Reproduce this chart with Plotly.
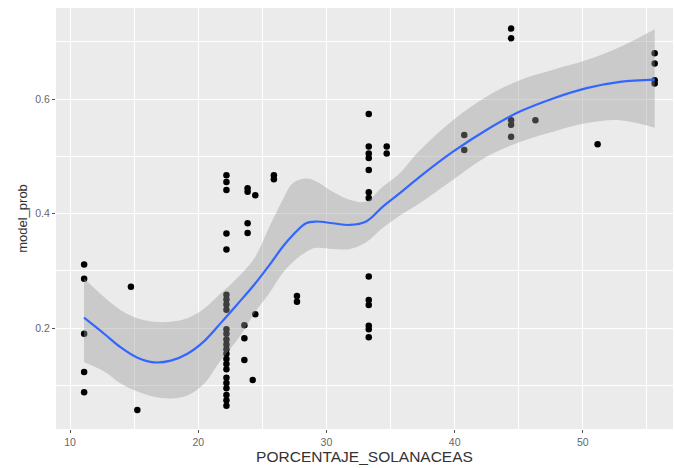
import plotly.graph_objects as go

# ---- scatter data (PORCENTAJE_SOLANACEAS, model_prob) ----
col_x = [11.1, 14.75, 15.25, 22.2, 23.6, 23.85, 24.25, 24.45, 25.9, 27.7,
         33.3, 34.7, 40.75, 44.4, 46.3, 51.15, 55.6]
col_y = [
    [0.311, 0.286, 0.190, 0.123, 0.088],
    [0.272],
    [0.057],
    [0.467, 0.455, 0.441, 0.365, 0.337, 0.258, 0.250, 0.241, 0.232, 0.198,
     0.190, 0.180, 0.171, 0.163, 0.155, 0.146, 0.137, 0.128, 0.113, 0.104,
     0.095, 0.083, 0.074, 0.064],
    [0.205, 0.182, 0.144],
    [0.444, 0.438, 0.383, 0.366],
    [0.109],
    [0.432, 0.224],
    [0.467, 0.460],
    [0.256, 0.246],
    [0.574, 0.517, 0.505, 0.497, 0.476, 0.437, 0.427, 0.290, 0.249, 0.240,
     0.204, 0.198, 0.184],
    [0.517, 0.505],
    [0.537, 0.511],
    [0.723, 0.706, 0.563, 0.555, 0.534],
    [0.563],
    [0.521],
    [0.680, 0.662, 0.633, 0.627],
]

# ---- smoother (loess) ----
fit_x = [11.09, 12.66, 13.96, 15.26, 16.56, 17.87, 19.16, 20.47, 21.77, 23.07,
         24.38, 25.55, 26.59, 27.37, 28.41, 29.20, 30.49, 31.80, 33.10, 34.40,
         35.70, 37.27, 39.87, 42.48, 45.08, 47.68, 50.29, 52.89, 55.6]
fit_y = [0.218, 0.190, 0.166, 0.148, 0.140, 0.143, 0.155, 0.177, 0.209, 0.242,
         0.276, 0.310, 0.342, 0.362, 0.383, 0.386, 0.383, 0.380, 0.386, 0.412,
         0.435, 0.464, 0.508, 0.546, 0.578, 0.601, 0.619, 0.630, 0.634]
fit_hi = [0.287, 0.254, 0.231, 0.217, 0.211, 0.211, 0.217, 0.234, 0.261, 0.288,
          0.322, 0.377, 0.424, 0.453, 0.461, 0.456, 0.438, 0.424, 0.421, 0.447,
          0.470, 0.510, 0.563, 0.604, 0.633, 0.651, 0.668, 0.691, 0.722]
fit_lo = [0.140, 0.124, 0.103, 0.089, 0.080, 0.077, 0.082, 0.103, 0.144, 0.180,
          0.226, 0.261, 0.296, 0.315, 0.333, 0.340, 0.338, 0.338, 0.350, 0.375,
          0.396, 0.418, 0.459, 0.499, 0.525, 0.543, 0.558, 0.563, 0.550]

pts_x = [x for x, ys in zip(col_x, col_y) for _ in ys]
pts_y = [y for ys in col_y for y in ys]

fig = go.Figure()
fig.add_trace(go.Scatter(x=pts_x, y=pts_y, mode="markers",
                         marker=dict(color="black", size=6.5), showlegend=False))
fig.add_trace(go.Scatter(x=fit_x, y=fit_lo, mode="lines",
                         line=dict(width=0, shape="spline"), showlegend=False))
fig.add_trace(go.Scatter(x=fit_x, y=fit_hi, mode="lines", fill="tonexty",
                         fillcolor="rgba(153,153,153,0.4)",
                         line=dict(width=0, shape="spline"), showlegend=False))
fig.add_trace(go.Scatter(x=fit_x, y=fit_y, mode="lines",
                         line=dict(color="#3366FF", width=2.2, shape="spline"),
                         showlegend=False))

FONT = "Liberation Sans, Arial, sans-serif"
axis_common = dict(
    showgrid=True, gridcolor="white", gridwidth=1.1,
    zeroline=False, showline=False,
    ticks="outside", ticklen=3, tickwidth=1, tickcolor="#555555",
    tickfont=dict(family=FONT, size=10.5, color="#666666"),
)

fig.update_layout(
    width=674, height=468,
    margin=dict(l=56, r=1, t=8, b=39),
    paper_bgcolor="white", plot_bgcolor="#EBEBEB",
    font=dict(family=FONT, color="#333333"),
    xaxis=dict(range=[8.906, 57.03], tick0=0, dtick=10,
               minor=dict(dtick=5, showgrid=True, gridcolor="white", gridwidth=0.5, ticks=""),
               title=dict(text="PORCENTAJE_SOLANACEAS", font=dict(size=15.5, color="#333333"), standoff=2),
               **axis_common),
    yaxis=dict(range=[0.0236, 0.759], tick0=0, dtick=0.2,
               minor=dict(dtick=0.1, showgrid=True, gridcolor="white", gridwidth=0.5, ticks=""),
               title=dict(text="model_prob", font=dict(size=13, color="#333333"), standoff=4),
               **axis_common),
)

fig.write_html("out.html")
